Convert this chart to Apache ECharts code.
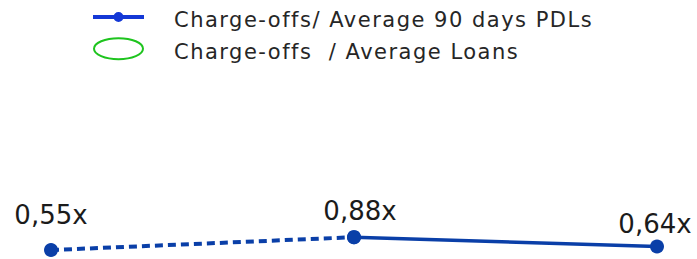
<!DOCTYPE html>
<html>
<head>
<meta charset="utf-8">
<script src="https://cdn.jsdelivr.net/npm/echarts@6/dist/echarts.min.js"></script>
<style>
html,body{margin:0;padding:0;background:#fff;}
#chart{width:697px;height:259px;}
#chart text[style*="21px"]{letter-spacing:1.5px;}
</style>
</head>
<body>
<div id="chart"></div>
<script>
var categories = ['P1', 'P2', 'P3'];
var pdlRatio = [0.55, 0.88, 0.64];
var loanRatio = [];
var seriesNames = ['Charge-offs/ Average 90 days PDLs', 'Charge-offs  / Average Loans'];

var FONT = "'DejaVu Sans', sans-serif";
var blue = '#0a3fa8';
var labelOffsets = [[0, -9], [6, 0], [-2, 3.5]];

function fmt(v) { return v.toFixed(2).replace('.', ',') + 'x'; }

var dashedData = pdlRatio.map(function (v, i) {
  return i <= 1 ? { value: v, label: { show: i === 0, offset: labelOffsets[i] } } : null;
});
var solidData = pdlRatio.map(function (v, i) {
  return i >= 1 ? { value: v, label: { show: true, offset: labelOffsets[i] } } : null;
});

var chart = echarts.init(document.getElementById('chart'), null, { renderer: 'svg' });
chart.setOption({
  animation: false,
  legend: {
    orient: 'vertical',
    left: 92,
    top: 5.5,
    padding: 0,
    itemGap: 1.7,
    itemWidth: 51,
    itemHeight: 29,
    textStyle: { fontFamily: FONT, fontSize: 21, color: '#262626', padding: [0, 0, 0, 25] },
    data: [
      { name: seriesNames[0],
        icon: 'path://M0,0 M51,29 M0,9.5 L51,9.5 L51,13.5 L0,13.5 Z M25.5,6.5 A5,5 0 1 1 25.5,16.5 A5,5 0 1 1 25.5,6.5 Z',
        itemStyle: { color: '#1438d6', borderWidth: 0 } },
      { name: seriesNames[1],
        icon: 'path://M0,0 M51,29 M1,11.5 A24.5,10.5 0 1 1 50,11.5 A24.5,10.5 0 1 1 1,11.5 Z',
        itemStyle: { color: 'rgba(0,0,0,0)', borderColor: '#1ec41e', borderWidth: 2 } }
    ]
  },
  grid: { left: 51, right: 40, top: 232.5, bottom: 3.1 },
  xAxis: { type: 'category', data: categories, boundaryGap: false, show: false },
  yAxis: { type: 'value', min: 0.4, max: 1.0, show: false },
  series: [
    {
      name: seriesNames[0], type: 'line', data: solidData,
      symbol: 'circle', symbolSize: 14,
      itemStyle: { color: blue },
      lineStyle: { color: blue, width: 3.5 },
      label: { show: true, position: 'top', distance: 5, formatter: function (p) { return fmt(p.value); },
        fontFamily: FONT, fontSize: 26, lineHeight: 28, color: '#1b1b1b' },
      z: 3
    },
    {
      name: '_dashed', type: 'line', data: dashedData,
      symbol: 'circle', symbolSize: 14,
      itemStyle: { color: blue },
      lineStyle: { color: blue, width: 4, type: [8, 5] },
      label: { show: true, position: 'top', distance: 5, formatter: function (p) { return fmt(p.value); },
        fontFamily: FONT, fontSize: 26, lineHeight: 28, color: '#1b1b1b' },
      z: 2
    },
    {
      name: seriesNames[1], type: 'line', data: loanRatio,
      itemStyle: { color: '#1ec41e' }
    }
  ]
});
</script>
</body>
</html>
